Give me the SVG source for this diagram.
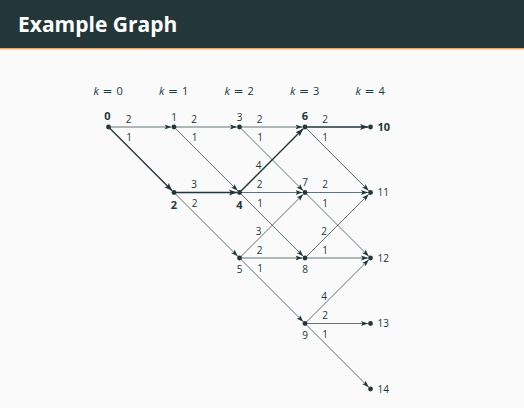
<svg xmlns="http://www.w3.org/2000/svg" width="524" height="408" viewBox="0 0 524 408">
<style>
text{font-family:"Open Sans","DejaVu Sans",sans-serif;fill:#23373b}
.title{font-size:21px;font-weight:bold;fill:#ffffff}
.k{font-size:11px}
.eq{font-family:"DejaVu Sans",sans-serif;font-size:12px}
.el{font-size:10px;text-anchor:middle}
.nl{font-size:10px;text-anchor:middle}
.nr{font-size:10px}
.b{font-weight:bold;font-size:11px}
.e{stroke:#23373b;stroke-width:0.7;fill:none;marker-end:url(#ah)}
.eb{stroke:#23373b;stroke-width:1.4;fill:none;marker-end:url(#ahb)}
.n{fill:#23373b}
</style>
<defs>
<marker id="ah" markerUnits="userSpaceOnUse" markerWidth="8" markerHeight="6" refX="7" refY="3" orient="auto"><path d="M0,0.5 L7,3 L0,5.5 L1.6,3 z" fill="#23373b"/></marker>
<marker id="ahb" markerUnits="userSpaceOnUse" markerWidth="9" markerHeight="7" refX="8" refY="3.5" orient="auto"><path d="M0,0.5 L8,3.5 L0,6.5 L1.8,3.5 z" fill="#23373b"/></marker>
</defs>
<rect x="0" y="0" width="524" height="408" fill="#fafafa"/>
<rect x="0" y="0" width="524" height="48" fill="#23373b"/>
<rect x="0" y="48" width="524" height="1.4" fill="#e6a56c"/>
<text class="title" x="18" y="32">Example Graph</text>
<g id="k-labels">
<text class="k" y="95"><tspan x="93.5" font-style="italic">k</tspan><tspan class="eq" x="102.5">=</tspan><tspan x="116.5">0</tspan></text>
<text class="k" y="95"><tspan x="159" font-style="italic">k</tspan><tspan class="eq" x="168">=</tspan><tspan x="182">1</tspan></text>
<text class="k" y="95"><tspan x="224.5" font-style="italic">k</tspan><tspan class="eq" x="233.5">=</tspan><tspan x="247.5">2</tspan></text>
<text class="k" y="95"><tspan x="290" font-style="italic">k</tspan><tspan class="eq" x="299">=</tspan><tspan x="313">3</tspan></text>
<text class="k" y="95"><tspan x="355.5" font-style="italic">k</tspan><tspan class="eq" x="364.5">=</tspan><tspan x="378.5">4</tspan></text>
</g>
<g id="connectors">
<path class="e" d="M108.5,127 L171.5,127"/>
<path class="eb" d="M108.5,127 L172.2,190.7"/>
<path class="e" d="M174,127 L237,127"/>
<path class="e" d="M174,127 L237.7,190.7"/>
<path class="e" d="M239.5,127 L302.5,127"/>
<path class="e" d="M239.5,127 L303.2,190.7"/>
<path class="eb" d="M305,127 L368,127"/>
<path class="e" d="M305,127 L368.7,190.7"/>
<path class="eb" d="M174,192.5 L237,192.5"/>
<path class="e" d="M174,192.5 L237.7,256.2"/>
<path class="eb" d="M239.5,192.5 L303.2,128.8"/>
<path class="e" d="M239.5,192.5 L302.5,192.5"/>
<path class="e" d="M239.5,192.5 L303.2,256.2"/>
<path class="e" d="M305,192.5 L368,192.5"/>
<path class="e" d="M305,192.5 L368.7,256.2"/>
<path class="e" d="M239.5,258 L303.2,194.3"/>
<path class="e" d="M239.5,258 L302.5,258"/>
<path class="e" d="M239.5,258 L303.2,321.7"/>
<path class="e" d="M305,258 L368.7,194.3"/>
<path class="e" d="M305,258 L368,258"/>
<path class="e" d="M305,323.5 L368.7,259.8"/>
<path class="e" d="M305,323.5 L368,323.5"/>
<path class="e" d="M305,323.5 L368.7,387.2"/>
<text class="el" x="128.5" y="122.5">2</text>
<text class="el" x="129" y="141">1</text>
<text class="el" x="194" y="122.5">2</text>
<text class="el" x="194.5" y="141">1</text>
<text class="el" x="259.5" y="122.5">2</text>
<text class="el" x="260" y="141">1</text>
<text class="el" x="325" y="122.5">2</text>
<text class="el" x="325" y="141">1</text>
<text class="el" x="194" y="188">3</text>
<text class="el" x="194.5" y="206.5">2</text>
<text class="el" x="258.5" y="169">4</text>
<text class="el" x="259.5" y="188">2</text>
<text class="el" x="260" y="206.5">1</text>
<text class="el" x="325" y="188">2</text>
<text class="el" x="325" y="206.5">1</text>
<text class="el" x="258.5" y="235">3</text>
<text class="el" x="259.5" y="253.5">2</text>
<text class="el" x="260" y="272">1</text>
<text class="el" x="324" y="235">2</text>
<text class="el" x="325" y="253.5">1</text>
<text class="el" x="324" y="300">4</text>
<text class="el" x="325" y="319">2</text>
<text class="el" x="325" y="337.5">1</text>
</g>
<g id="n0"><circle class="n" cx="108.5" cy="127" r="2.4"/><text class="nl b" x="107.5" y="120">0</text></g>
<g id="n1"><circle class="n" cx="174" cy="127" r="2.4"/><text class="nl" x="174" y="120.5">1</text></g>
<g id="n2"><circle class="n" cx="174" cy="192.5" r="2.4"/><text class="nl b" x="174" y="208.5">2</text></g>
<g id="n3"><circle class="n" cx="239.5" cy="127" r="2.4"/><text class="nl" x="239.5" y="120.5">3</text></g>
<g id="n4"><circle class="n" cx="239.5" cy="192.5" r="2.4"/><text class="nl b" x="239.5" y="208.5">4</text></g>
<g id="n5"><circle class="n" cx="239.5" cy="258" r="2.4"/><text class="nl" x="239.5" y="273">5</text></g>
<g id="n6"><circle class="n" cx="305" cy="127" r="2.4"/><text class="nl b" x="305" y="120">6</text></g>
<g id="n7"><circle class="n" cx="305" cy="192.5" r="2.4"/><text class="nl" x="305" y="185.5">7</text></g>
<g id="n8"><circle class="n" cx="305" cy="258" r="2.4"/><text class="nl" x="305" y="273">8</text></g>
<g id="n9"><circle class="n" cx="305" cy="323.5" r="2.4"/><text class="nl" x="305" y="338.5">9</text></g>
<g id="n10"><circle class="n" cx="370.5" cy="127" r="2.4"/><text class="nr b" x="377.5" y="131">10</text></g>
<g id="n11"><circle class="n" cx="370.5" cy="192.5" r="2.4"/><text class="nr" x="377.5" y="196">11</text></g>
<g id="n12"><circle class="n" cx="370.5" cy="258" r="2.4"/><text class="nr" x="377.5" y="261.5">12</text></g>
<g id="n13"><circle class="n" cx="370.5" cy="323.5" r="2.4"/><text class="nr" x="377.5" y="327">13</text></g>
<g id="n14"><circle class="n" cx="370.5" cy="389" r="2.4"/><text class="nr" x="377.5" y="392.5">14</text></g>
</svg>
